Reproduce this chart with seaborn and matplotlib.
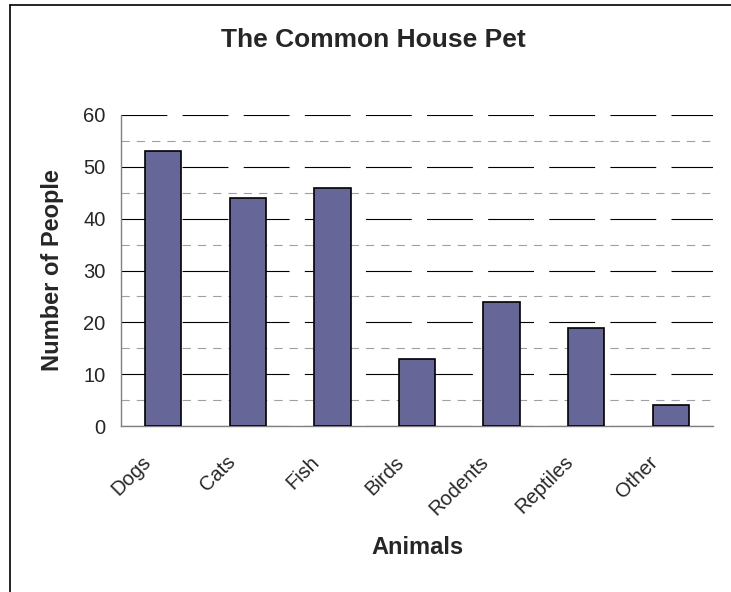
import matplotlib
matplotlib.use("Agg")
import matplotlib.pyplot as plt
import matplotlib.transforms as mtransforms
from matplotlib.ticker import MultipleLocator, FixedLocator, NullFormatter
import seaborn as sns
import pandas as pd

categories = ["Dogs", "Cats", "Fish", "Birds", "Rodents", "Reptiles", "Other"]
people = [53, 44, 46, 13, 24, 19, 4]
title = "The Common House Pet"
xlabel = "Animals"
ylabel = "Number of People"

sns.set_style("white")
plt.rcParams["font.family"] = ["Liberation Sans", "DejaVu Sans"]
plt.rcParams["lines.scale_dashes"] = False

df = pd.DataFrame({"animal": categories, "people": people})

fig = plt.figure(figsize=(7.31, 5.92), dpi=100)
ax = fig.add_axes([121 / 731, 1 - 426 / 592, (713 - 121) / 731, (426 - 115) / 592])

sns.barplot(data=df, x="animal", y="people", ax=ax, color="#666699", saturation=1,
            width=0.43, edgecolor="black", linewidth=1.2, zorder=3)

ax.set_ylim(0, 60)
ax.set_xlim(-0.5, len(categories) - 0.5)
ax.yaxis.set_major_locator(MultipleLocator(10))
ax.yaxis.set_minor_locator(MultipleLocator(5))
ax.grid(False)
ax.yaxis.grid(True, which="major", color="black", linewidth=0.8,
              linestyle=(0, (33, 11)), zorder=0)
ax.yaxis.grid(True, which="minor", color="#a0a0a0", linewidth=0.8,
              linestyle=(0, (6, 5)), zorder=0)
ax.set_axisbelow(True)

for s in ["top", "right"]:
    ax.spines[s].set_visible(False)
for s in ["left", "bottom"]:
    ax.spines[s].set_color("#808080")
    ax.spines[s].set_linewidth(1.0)

ax.tick_params(axis="y", which="major", direction="out", length=5, width=1,
               color="#808080", labelsize=14.5, pad=6)
ax.tick_params(axis="y", which="minor", direction="out", length=3, width=1,
               color="#808080")
ax.xaxis.set_minor_locator(FixedLocator([i - 0.5 for i in range(len(categories) + 1)]))
ax.xaxis.set_minor_formatter(NullFormatter())
ax.tick_params(axis="x", which="minor", direction="out", length=5, width=1,
               color="#808080")
ax.tick_params(axis="x", which="major", length=0, labelsize=14.5, pad=19)

offset = mtransforms.ScaledTranslation(-9 / 100, 0, fig.dpi_scale_trans)
for lab in ax.get_xticklabels():
    lab.set_rotation(45)
    lab.set_ha("right")
    lab.set_va("top")
    lab.set_transform(lab.get_transform() + offset)

ax.set_xlabel(xlabel, fontsize=17, fontweight="bold")
ax.set_ylabel(ylabel, fontsize=17, fontweight="bold")
ax.xaxis.set_label_coords(0.5, -(548 - 426) / 311, transform=ax.transAxes)
ax.xaxis.label.set_va("center")
ax.yaxis.set_label_coords(-(121 - 52) / 592, 0.5, transform=ax.transAxes)
ax.yaxis.label.set_va("center")
ax.yaxis.label.set_ha("center")
ax.yaxis.label.set_rotation_mode("default")

fig.text(373 / 731, 1 - 47 / 592, title, fontsize=19, fontweight="bold",
         ha="center", va="baseline")

# chart area border (left and top visible)
fig.add_artist(plt.Line2D([10 / 731, 10 / 731], [0, 1 - 5 / 592], transform=fig.transFigure,
                          color="black", linewidth=1.2))
fig.add_artist(plt.Line2D([10 / 731, 1], [1 - 5 / 592, 1 - 5 / 592], transform=fig.transFigure,
                          color="black", linewidth=1.2))

fig.savefig("out.png", dpi=100)
